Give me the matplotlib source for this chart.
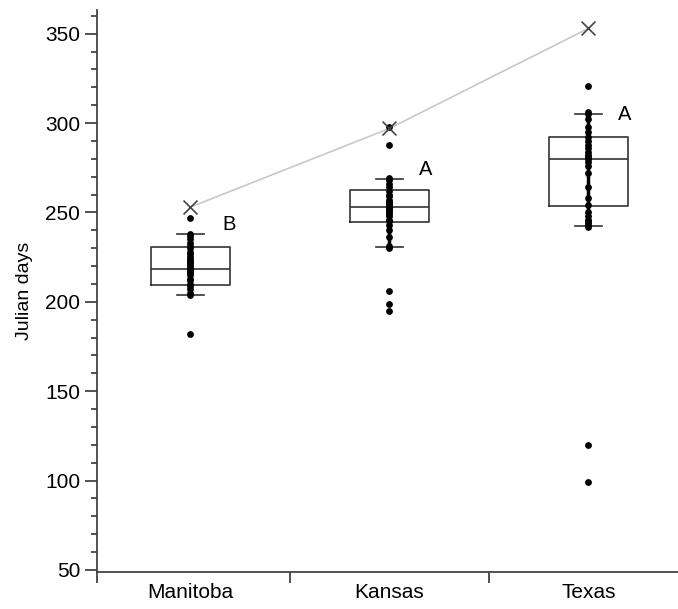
import numpy as np
import matplotlib.pyplot as plt
from matplotlib.ticker import MultipleLocator

plt.rcParams['font.family'] = ['Liberation Sans', 'DejaVu Sans']

sites = ['Manitoba', 'Kansas', 'Texas']
letters = ['B', 'A', 'A']

# box statistics
q1 = [209.5, 244.7, 253.7]
med = [218.3, 253.0, 279.8]
q3 = [230.9, 262.3, 292.0]
wlo = [203.7, 230.4, 242.5]
whi = [237.9, 268.8, 305.2]

# individual observations (Julian days)
manitoba = [182, 204, 205, 207, 209, 210, 212, 213, 215, 216, 217, 218, 218, 219, 220,
            221, 222, 223, 224, 225, 227, 228, 230, 231, 233, 235, 237, 238, 247]
kansas = [195, 199, 206, 230, 231, 236, 240, 243, 245, 246, 248, 249, 250, 251, 252,
          253, 253, 254, 255, 256, 257, 259, 260, 262, 264, 266, 268, 269, 288, 298]
texas = [99, 120, 242, 243, 244, 245, 246, 248, 250, 254, 258, 264, 272, 276, 278,
         280, 281, 282, 284, 286, 288, 290, 292, 295, 298, 302, 305, 306, 321]

# X markers joined by the grey line
xmark = [253, 297, 353]
# where the letters sit
letter_x = [0.16, 1.15, 2.15]
letter_y = [243, 274, 305]

fig = plt.figure(figsize=(6.78, 6.09), dpi=100)
ax = fig.add_axes([0.143, 0.061, 0.857, 0.923])

stats = []
for i in range(3):
    stats.append(dict(med=med[i], q1=q1[i], q3=q3[i], whislo=wlo[i], whishi=whi[i], fliers=[]))
line_kw = dict(color='#333333', linewidth=1.2)
ax.bxp(stats, positions=[0, 1, 2], widths=0.4, showfliers=False,
       boxprops=line_kw, medianprops=line_kw, whiskerprops=dict(linewidth=0),
       capprops=line_kw, capwidths=0.14)

for i, vals in enumerate([manitoba, kansas, texas]):
    ax.plot([i, i], [wlo[i], whi[i]], color='black', linewidth=2.5, zorder=3)
    ax.scatter(np.full(len(vals), i), vals, s=24, color='black', zorder=4, linewidths=0)

ax.plot([0, 1, 2], xmark, color='#c8c8c8', linewidth=1.2, zorder=2)
ax.scatter([0, 1, 2], xmark, marker='x', s=100, color='#444444', linewidths=1.2, zorder=5)

for i in range(3):
    ax.text(letter_x[i], letter_y[i], letters[i], fontsize=14.5, va='center')

ax.set_xlim(-0.47, 2.45)
ax.set_ylim(48.9, 363.4)
ax.spines['top'].set_visible(False)
ax.spines['right'].set_visible(False)
for s in ['left', 'bottom']:
    ax.spines[s].set_color('#444444')
    ax.spines[s].set_linewidth(1.3)

ax.yaxis.set_major_locator(MultipleLocator(50))
ax.yaxis.set_minor_locator(MultipleLocator(10))
ax.tick_params(axis='y', which='major', length=9, width=1.3, color='#444444', labelsize=15, pad=3)
ax.tick_params(axis='y', which='minor', length=4, width=1.3, color='#444444')

ax.set_xticks([-0.47, 0.5, 1.5])
ax.set_xticklabels([])
ax.set_xticks([0, 1, 2], minor=True)
ax.set_xticklabels(sites, minor=True)
ax.tick_params(axis='x', which='major', length=8, width=1.3, color='#444444')
ax.tick_params(axis='x', which='minor', length=0, labelsize=15, pad=8)

ax.set_ylabel('Julian days', fontsize=14, labelpad=9)

fig.savefig('out.png', dpi=100)
